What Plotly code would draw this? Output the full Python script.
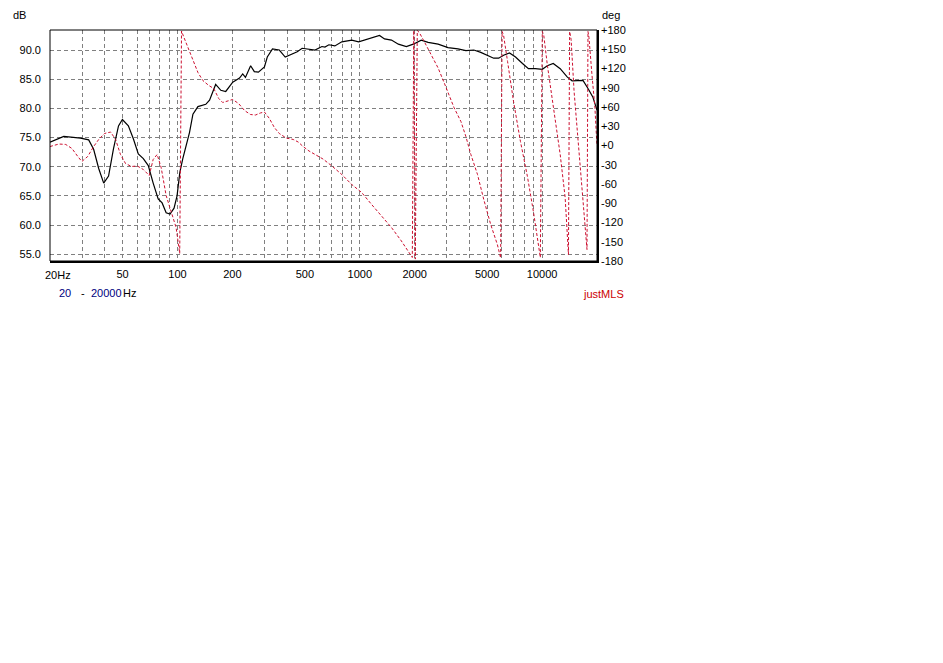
import plotly.graph_objects as go

# ---------------- data ----------------
mag_freq = [20, 23.8, 29.4, 32.6, 34.7, 37.0, 39.4, 41.9, 44.6, 47.5,
            49.9, 53.8, 57.3, 61.0, 65.0, 69.2, 73.6, 78.4, 82.4, 86.7,
            91.1, 95.8, 99.5, 103, 107, 111.6, 116.5, 121.6, 129.5, 143,
            150, 162, 173, 184, 201, 219, 228, 236, 252, 264,
            278, 300, 311, 332, 362, 390, 426, 454, 483, 527,
            568, 620, 644, 677, 730, 797, 904, 986, 1063, 1161,
            1283, 1367, 1492, 1628, 1800, 1965, 2173, 2371, 2689, 3048,
            3455, 3820, 4222, 4610, 5032, 5425, 5777, 6148, 6628, 7148,
            7804, 8414, 9184, 10024, 10674, 11508, 12566, 13720, 14606, 16760,
            17850, 19000, 20000]
mag_db = [74.2, 75.2, 74.9, 74.6, 73.0, 69.7, 67.2, 68.4, 73.1, 77.0,
          78.1, 77.0, 74.8, 72.2, 71.4, 70.2, 67.2, 64.5, 63.8, 62.1,
          61.9, 62.9, 65.0, 69.0, 71.4, 73.6, 75.9, 79.0, 80.3, 80.7,
          81.4, 84.1, 83.1, 82.9, 84.5, 85.2, 85.9, 85.3, 87.3, 86.3,
          86.2, 87.1, 88.8, 90.2, 90.0, 88.8, 89.3, 89.7, 90.3, 90.2,
          90.0, 90.6, 90.5, 90.9, 90.7, 91.4, 91.7, 91.4, 91.7, 92.0,
          92.5, 91.9, 91.7, 91.0, 90.6, 91.0, 91.7, 91.3, 91.0, 90.4,
          90.2, 89.9, 90.0, 89.6, 89.0, 88.6, 88.6, 89.1, 89.5, 88.8,
          87.7, 86.8, 86.8, 86.7, 87.3, 87.7, 86.8, 85.4, 84.7, 84.8,
          83.4, 81.9, 79.7]

phase_freq = [20.0, 22.4, 24.4, 26.4, 28.4, 29.9, 32.2, 34.7, 37.0, 39.8,
              43.0, 45.8, 48.7, 51.9, 55.9, 60.3, 65.0, 70.0, 73.6, 77.4,
              81.4, 86.7, 92.3, 98.3, 102.9, 105.3, 108.6, 114.2, 121.6, 129.5,
              137.8, 148.6, 158.2, 168.4, 177.1, 191.0, 200.7, 216.4, 233.3, 251.6,
              267.9, 285.2, 299.9, 319.3, 339.9, 361.9, 395.1, 431.3, 459.2, 488.9,
              527.0, 575.4, 628.1, 703.1, 797.0, 903.4, 1024, 1161, 1316, 1492,
              1691, 1823, 1941, 1978, 2016, 2067, 2120, 2256, 2463, 2689,
              2899, 3087, 3286, 3587, 3819, 4066, 4423, 4786, 5224, 5682,
              5922, 6034, 6149, 6465, 6970, 7608, 8307, 8957, 9595, 9777,
              10025, 10216, 10674, 11508, 12564, 13377, 13946, 14156, 14425, 14976,
              15799, 16763, 17625, 17847, 18072, 18762, 19478, 19972]
phase_deg = [-1.6, 2.3, 1.6, -4.7, -17.1, -24.9, -17.1, -1.6, 9.4, 18.7,
             21.0, 9.4, -14.0, -28.0, -32.7, -32.0, -37.4, -46.7, -21.8, -14.0,
             -34.3, -77.9, -102.8, -127.8, -168.3, 178.4, 168.3, 152.7, 130.9, 113.8,
             101.3, 93.5, 88.8, 73.2, 67.0, 70.1, 71.7, 65.5, 54.5, 48.3,
             47.5, 50.7, 52.2, 42.1, 28.1, 18.7, 11.7, 9.4, 5.5, -1.6,
             -8.6, -14.8, -21.0, -31.9, -45.2, -60.8, -73.2, -91.9, -109.9, -127.8,
             -148.8, -162.1, -174.5, 179.2, -177.0, 179.2, 176.1, 162.1, 141.8, 120.8,
             98.2, 79.5, 59.2, 37.4, 14.0, -14.0, -45.2, -84.1, -123.1, -154.3,
             -175.3, 177.7, 171.4, 130.9, 68.6, 6.2, -48.3, -102.8, -162.1, -174.5,
             177.7, 171.4, 126.2, 59.2, -14.0, -81.0, -169.9, 177.7, 165.2, 84.2,
             6.2, -81.0, -162.1, 177.7, 168.3, 110.7, 59.2, 1.6]

x_grid = [20, 30, 40, 50, 60, 70, 80, 90, 100, 200, 300, 400, 500, 600, 700, 800, 900,
          1000, 2000, 3000, 4000, 5000, 6000, 7000, 8000, 9000, 10000, 20000]
x_labels = {50: "50", 100: "100", 200: "200", 500: "500", 1000: "1000",
            2000: "2000", 5000: "5000", 10000: "10000"}
db_ticks = [55, 60, 65, 70, 75, 80, 85, 90]
db_labels = ["55.0", "60.0", "65.0", "70.0", "75.0", "80.0", "85.0", "90.0"]
deg_ticks = [-180, -150, -120, -90, -60, -30, 0, 30, 60, 90, 120, 150, 180]
deg_labels = ["-180", "-150", "-120", "-90", "-60", "-30", "+0", "+30", "+60",
              "+90", "+120", "+150", "+180"]

# ---------------- layout geometry (screen pixels; page body adds 8px) ----------------
OFF = 8
W, H = 943 - 2 * OFF, 663 - 2 * OFF
L, R, T, B = 47, 597, 30, 261
FONT = "Liberation Sans, Arial, sans-serif"


def px(x):
    return (x - L) / (R - L)


def py(y):
    return (B - y) / (B - T)


fig = go.Figure()
fig.add_trace(go.Scatter(x=phase_freq, y=phase_deg, yaxis="y2", mode="lines",
                         line=dict(color="#cc1030", width=1, dash="3px,2px"),
                         hoverinfo="skip", showlegend=False))
fig.add_trace(go.Scatter(x=mag_freq, y=mag_db, mode="lines",
                         line=dict(color="black", width=1.2),
                         hoverinfo="skip", showlegend=False))

grid = dict(showgrid=True, gridcolor="#808080", gridwidth=1, griddash="4px,3px")

fig.update_layout(
    width=W, height=H,
    margin=dict(l=L - OFF, r=W - (R - OFF), t=T - OFF, b=H - (B - OFF), pad=0),
    paper_bgcolor="white", plot_bgcolor="white",
    font=dict(family=FONT, size=11, color="black"),
    xaxis=dict(type="log", range=[1.30103, 4.30103], tickvals=x_grid,
               ticktext=[x_labels.get(v, "") for v in x_grid],
               showline=False, zeroline=False, ticks="", ticklabelstandoff=5,
               fixedrange=True, **grid),
    yaxis=dict(range=[53.85, 93.43], tickvals=db_ticks, ticktext=db_labels,
               showline=False, zeroline=False, ticks="", ticklabelstandoff=8,
               fixedrange=True, **grid),
    yaxis2=dict(range=[-180, 180], overlaying="y", side="right",
                tickvals=deg_ticks, ticktext=deg_labels, showgrid=False,
                showline=False, zeroline=False, ticks="", ticklabelstandoff=3,
                fixedrange=True),
    shapes=[
        dict(type="rect", xref="paper", yref="paper", x0=0, x1=1, y0=0, y1=1,
             line=dict(color="black", width=1), layer="above"),
        dict(type="line", xref="paper", yref="paper", x0=0, x1=px(R + 2),
             y0=py(B + 1), y1=py(B + 1), line=dict(color="black", width=2), layer="above"),
        dict(type="line", xref="paper", yref="paper", x0=px(R + 1), x1=px(R + 1),
             y0=py(B + 2), y1=1, line=dict(color="black", width=2), layer="above"),
    ],
)

ann = [
    dict(text="dB", x=px(9), y=py(8.5), xanchor="left", yanchor="top"),
    dict(text="deg", x=px(601), y=py(8.5), xanchor="left", yanchor="top"),
    dict(text="20Hz", x=px(41), y=py(275), xanchor="left", yanchor="middle"),
    dict(text="20", x=px(55), y=py(293), xanchor="left", yanchor="middle",
         font=dict(color="#000080", size=11, family=FONT)),
    dict(text="-", x=px(80), y=py(293), xanchor="center", yanchor="middle"),
    dict(text="20000", x=px(87), y=py(293), xanchor="left", yanchor="middle",
         font=dict(color="#000080", size=11, family=FONT)),
    dict(text="Hz", x=px(119), y=py(293), xanchor="left", yanchor="middle"),
    dict(text="justMLS", x=px(582), y=py(294), xanchor="left", yanchor="middle",
         font=dict(color="#cc0000", size=11, family=FONT)),
]
for a in ann:
    fig.add_annotation(xref="paper", yref="paper", showarrow=False,
                       borderpad=0, **a)

fig.write_html("out.html")
